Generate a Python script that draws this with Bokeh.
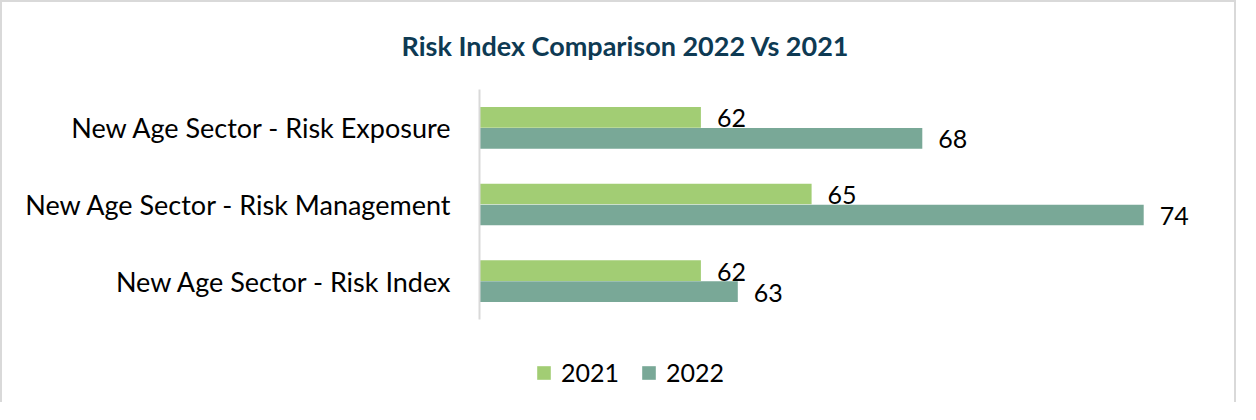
from bokeh.plotting import figure
from bokeh.models import (ColumnDataSource, Range1d, LabelSet, Legend, LegendItem,
                          FixedTicker)
from bokeh.transform import dodge
from bokeh.core.properties import value
from bokeh.embed import file_html
from bokeh.resources import INLINE

# ---- data ----
categories = ["New Age Sector - Risk Index",
              "New Age Sector - Risk Management",
              "New Age Sector - Risk Exposure"]
values_2021 = [62, 65, 62]
values_2022 = [63, 74, 68]
series_names = ["2021", "2022"]
axis_start = 56
axis_end = 76
title_text = "Risk Index Comparison 2022 Vs 2021"

GREEN = "#A2CD74"
TEAL = "#79A897"
FONT = "Lato"

positions = list(range(len(categories)))
src = ColumnDataSource(dict(
    pos=positions,
    v2021=values_2021,
    v2022=values_2022,
    t2021=[str(v) for v in values_2021],
    t2022=[str(v) for v in values_2022],
))

# frame extends below the categories to host the legend (extra ~80px)
y_lo = -0.5 - 80 / 76.67
y_hi = len(categories) - 0.5

p = figure(width=1236, height=402,
           y_range=Range1d(y_lo, y_hi),
           x_range=Range1d(axis_start, axis_end),
           output_backend="svg", toolbar_location=None,
           min_border_left=477, min_border_right=21,
           min_border_top=87, min_border_bottom=5)
p.styles = {"border-top": "2px solid #d9d9d9",
            "border-left": "2px solid #d9d9d9",
            "border-right": "2px solid #d9d9d9"}
p.outline_line_color = None
p.background_fill_color = "white"
p.border_fill_color = "white"

bh = 0.27
off = 0.137
r1 = p.hbar(y=dodge("pos", off), left=axis_start, right="v2021",
            height=bh, fill_color=GREEN, line_color=None, source=src)
r2 = p.hbar(y=dodge("pos", -off), left=axis_start, right="v2022",
            height=bh, fill_color=TEAL, line_color=None, source=src)

for col, txt, o in (("v2021", "t2021", off), ("v2022", "t2022", -off)):
    p.add_layout(LabelSet(x=col, y=dodge("pos", o), text=txt,
                          x_offset=16, y_offset=-1, text_baseline="middle",
                          text_align="left", text_font=value(FONT),
                          text_font_size="25px", text_color="#000000", source=src))

# axes / grid
p.xaxis.visible = False
p.xgrid.visible = False
p.ygrid.visible = False
ya = p.yaxis[0]
ya.ticker = FixedTicker(ticks=positions)
ya.major_label_overrides = {i: c for i, c in zip(positions, categories)}
ya.bounds = (-0.5, y_hi)
ya.axis_line_color = "#d9d9d9"
ya.axis_line_width = 2
ya.major_tick_line_color = None
ya.minor_tick_line_color = None
ya.major_tick_out = 0
ya.major_tick_in = 0
ya.major_label_standoff = 27
ya.major_label_text_font = FONT
ya.major_label_text_font_size = "27px"
ya.major_label_text_color = "#000000"

# title
p.title.text = title_text
p.title.align = "left"
p.title.vertical_align = "top"
p.title.offset = -78
p.title.text_font = FONT
p.title.text_font_style = "bold"
p.title.text_font_size = "27px"
p.title.text_color = "#0E3A53"
p.title.standoff = 52

legend = Legend(items=[LegendItem(label=series_names[0], renderers=[r1]),
                       LegendItem(label=series_names[1], renderers=[r2])],
                orientation="horizontal", location=(56, 12),
                glyph_width=17, glyph_height=17, label_standoff=9, spacing=21,
                padding=0, margin=0, border_line_color=None, background_fill_alpha=0,
                label_text_font=FONT, label_text_font_size="25px",
                label_text_color="#000000")
p.add_layout(legend, "center")

open("out.html", "w").write(file_html(p, INLINE))
